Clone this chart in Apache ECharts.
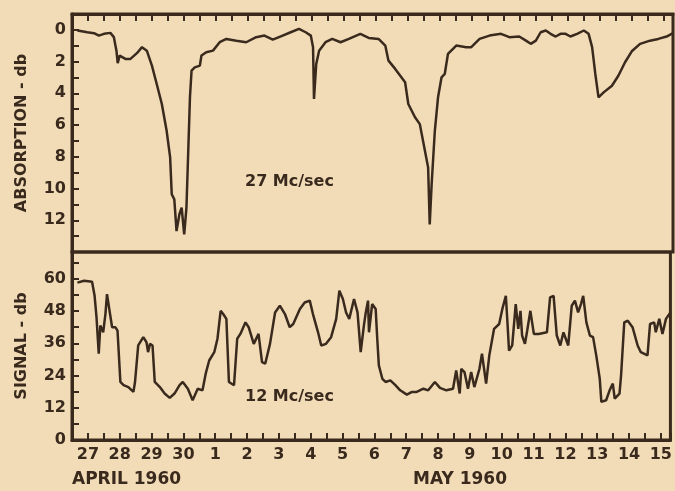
<!DOCTYPE html>
<html>
<head>
<meta charset="utf-8">
<script src="https://cdn.jsdelivr.net/npm/echarts@6/dist/echarts.min.js"></script>
<style>
html,body{margin:0;padding:0;background:#f2dcb8;}
#chart{width:675px;height:491px;}
</style>
</head>
<body>
<div id="chart"></div>
<script>
// x positions are in days counted from 27 April (0 = 27, 4 = 1 May, 18 = 15 May)
var dayLabels = ['27','28','29','30','1','2','3','4','5','6','7','8','9','10','11','12','13','14','15'];
var absorptionTicks = [0, 2, 4, 6, 8, 10, 12];
var signalTicks = [0, 12, 24, 36, 48, 60];

// 27 Mc/sec absorption (db)
var absDay = [-0.33,-0.02,0.19,0.34,0.50,0.70,0.81,0.89,0.93,0.99,
  1.17,1.33,1.53,1.69,1.84,2.00,2.15,2.31,2.46,2.57,
  2.62,2.70,2.77,2.86,2.93,3.01,3.08,3.14,3.19,3.24,
  3.34,3.50,3.55,3.70,3.91,4.12,4.33,4.64,4.95,5.26,
  5.52,5.78,6.09,6.34,6.60,6.81,6.97,7.04,7.07,7.14,
  7.23,7.43,7.64,7.90,8.16,8.52,8.78,9.09,9.30,9.40,
  9.61,9.92,10.02,10.23,10.38,10.54,10.64,10.69,10.75,10.85,
  10.95,11.06,11.16,11.26,11.52,11.83,11.99,12.25,12.56,12.92,
  13.18,13.49,13.70,13.85,14.01,14.16,14.32,14.47,14.63,14.78,
  14.94,15.09,15.30,15.51,15.66,15.77,15.87,15.97,16.13,16.39,
  16.59,16.80,17.01,17.27,17.58,17.84,18.10,18.30];
var absDb = [0.04,0.15,0.21,0.36,0.25,0.19,0.46,1.31,2.10,1.62,
  1.83,1.83,1.47,1.09,1.31,2.25,3.41,4.67,6.36,8.04,
  10.36,10.68,12.68,11.62,11.20,12.89,11.20,7.41,4.25,2.57,
  2.36,2.25,1.62,1.41,1.31,0.78,0.57,0.68,0.78,0.46,
  0.36,0.62,0.36,0.15,-0.06,0.15,0.36,1.09,4.36,2.15,
  1.31,0.78,0.57,0.78,0.57,0.25,0.51,0.57,0.99,1.94,
  2.46,3.30,4.67,5.51,5.94,7.62,8.67,12.26,9.73,6.36,
  4.25,2.99,2.78,1.52,0.99,1.09,1.09,0.57,0.36,0.25,
  0.46,0.42,0.68,0.88,0.68,0.15,0.04,0.25,0.42,0.25,
  0.25,0.42,0.25,0.04,0.25,1.09,2.78,4.25,3.94,3.52,
  2.89,2.04,1.35,0.88,0.68,0.57,0.42,0.21];

// 12 Mc/sec signal (db)
var sigDay = [-0.33,-0.12,0.13,0.21,0.27,0.34,0.39,0.48,0.55,0.60,
  0.68,0.76,0.86,0.93,1.02,1.12,1.27,1.43,1.48,1.58,
  1.74,1.84,1.89,1.95,2.03,2.10,2.26,2.41,2.57,2.72,
  2.88,2.98,3.14,3.29,3.45,3.60,3.70,3.81,3.97,4.07,
  4.17,4.25,4.35,4.43,4.59,4.69,4.79,4.95,5.05,5.21,
  5.36,5.47,5.57,5.72,5.88,6.03,6.19,6.34,6.45,6.66,
  6.81,6.97,7.07,7.23,7.33,7.48,7.64,7.80,7.90,8.01,
  8.11,8.21,8.36,8.47,8.57,8.67,8.73,8.80,8.83,8.93,
  9.04,9.09,9.14,9.25,9.35,9.50,9.66,9.81,10.02,10.18,
  10.33,10.54,10.69,10.90,11.06,11.26,11.47,11.57,11.68,11.73,
  11.83,11.94,12.04,12.14,12.30,12.38,12.51,12.61,12.76,12.92,
  13.02,13.13,13.18,13.23,13.33,13.44,13.52,13.59,13.64,13.73,
  13.80,13.90,14.01,14.16,14.42,14.52,14.63,14.73,14.84,14.94,
  15.09,15.20,15.30,15.40,15.49,15.56,15.66,15.77,15.87,15.97,
  16.08,16.13,16.28,16.39,16.49,16.55,16.70,16.75,16.85,16.96,
  17.11,17.27,17.37,17.58,17.66,17.79,17.84,17.95,18.05,18.16,
  18.30];
var sigDb = [58.6,59.3,58.9,53.7,45.7,32.1,42.6,40.1,46.9,54.3,
  48.1,42.0,42.0,40.7,21.6,20.4,19.7,17.9,21.6,35.2,
  38.3,36.4,32.7,35.8,35.2,21.6,19.7,17.3,15.7,17.3,
  20.4,21.6,19.1,14.8,19.1,18.5,24.7,29.6,32.7,37.7,
  48.1,46.9,45.1,21.6,20.4,37.7,39.5,43.8,42.0,35.8,
  39.5,29.0,28.4,35.8,47.5,50.0,46.9,42.0,43.2,48.8,
  51.2,51.9,46.9,40.1,35.2,35.8,38.3,45.1,55.6,52.5,
  47.5,45.1,52.5,47.5,32.7,42.6,47.5,51.9,40.1,50.6,
  48.8,37.7,27.8,22.8,21.6,22.2,20.4,18.5,16.9,17.9,
  17.9,19.1,18.5,21.6,19.4,18.5,19.1,25.9,17.3,26.5,
  25.3,19.1,25.3,19.7,26.5,32.1,21.0,31.5,41.4,43.2,
  48.8,53.7,43.8,33.3,35.2,50.6,41.4,48.1,38.9,35.8,
  40.7,48.1,39.5,39.5,40.1,53.1,53.7,38.9,35.2,40.1,
  35.2,50.0,51.9,47.5,50.6,53.7,43.8,38.9,38.3,31.5,
  22.8,14.2,14.8,18.5,21.0,15.4,17.3,24.1,43.8,44.4,
  42.0,35.2,32.7,31.5,43.2,43.8,40.1,45.1,39.5,45.1,
  47.5];

function zip(xs, ys){ var out=[]; for(var i=0;i<xs.length;i++){ out.push([xs[i], ys[i]]); } return out; }
var dayVals = dayLabels.map(function(_, i){ return i; });

var ink = '#3a2a1d';
var font = 'DejaVu Sans';
var xMin = -0.5, xMax = 18.3; // ticks every half day, counted from xMin

var chart = echarts.init(document.getElementById('chart'), null, {renderer:'canvas'});
chart.setOption({
  backgroundColor: '#f2dcb8',
  animation: false,
  grid: [
    {left:72, right:2, top:14, height:238, show:true, borderColor:ink, borderWidth:3, backgroundColor:'transparent'},
    {left:72, right:2, top:252, height:188, show:true, borderColor:ink, borderWidth:3, backgroundColor:'transparent'}
  ],
  xAxis: [
    {gridIndex:0, type:'value', position:'top', min:xMin, max:xMax, interval:0.5,
     axisLine:{show:true, onZero:false, lineStyle:{color:ink, width:3}},
     axisTick:{show:true, inside:true, length:7, lineStyle:{color:ink, width:2}},
     axisLabel:{show:false}, splitLine:{show:false}},
    {gridIndex:1, type:'value', position:'bottom', min:xMin, max:xMax, interval:0.5,
     axisLine:{show:true, onZero:false, lineStyle:{color:ink, width:3}},
     axisTick:{show:true, inside:true, length:7, lineStyle:{color:ink, width:2}},
     axisLabel:{show:true, customValues: dayVals, margin:7, color:ink, fontFamily:font, fontWeight:'bold', fontSize:16,
       formatter:function(v){ return dayLabels[Math.round(v)]; }},
     splitLine:{show:false}}
  ],
  yAxis: [
    {gridIndex:0, type:'value', inverse:true, min:-1, max:14, interval:1, position:'left',
     name:'ABSORPTION - db', nameLocation:'middle', nameRotate:90, nameGap:42,
     nameTextStyle:{color:ink, fontFamily:font, fontWeight:'bold', fontSize:16},
     axisLine:{show:true, onZero:false, lineStyle:{color:ink, width:3}},
     axisTick:{show:true, inside:true, length:7, lineStyle:{color:ink, width:2}},
     axisLabel:{show:true, customValues: absorptionTicks, margin:6, color:ink, fontFamily:font, fontWeight:'bold', fontSize:16},
     splitLine:{show:false}},
    {gridIndex:1, type:'value', min:0, max:70, interval:6, position:'left',
     name:'SIGNAL - db', nameLocation:'middle', nameRotate:90, nameGap:42,
     nameTextStyle:{color:ink, fontFamily:font, fontWeight:'bold', fontSize:16},
     axisLine:{show:true, onZero:false, lineStyle:{color:ink, width:3}},
     axisTick:{show:true, inside:true, length:7, lineStyle:{color:ink, width:2}},
     axisLabel:{show:true, customValues: signalTicks, margin:6, color:ink, fontFamily:font, fontWeight:'bold', fontSize:16},
     splitLine:{show:false}}
  ],
  series: [
    {type:'line', xAxisIndex:0, yAxisIndex:0, data: zip(absDay, absDb), showSymbol:false, symbol:'none',
     lineStyle:{color:ink, width:2.5}, clip:true, silent:true},
    {type:'line', xAxisIndex:1, yAxisIndex:1, data: zip(sigDay, sigDb), showSymbol:false, symbol:'none',
     lineStyle:{color:ink, width:2.5}, clip:true, silent:true}
  ],
  graphic: [
    {type:'text', left:245, top:174, style:{text:'27 Mc/sec', fill:ink, font:'bold 16px "DejaVu Sans"'}},
    {type:'text', left:245, top:389, style:{text:'12 Mc/sec', fill:ink, font:'bold 16px "DejaVu Sans"'}},
    {type:'text', left:72, top:471, style:{text:'APRIL 1960', fill:ink, font:'bold 17px "DejaVu Sans"'}},
    {type:'text', left:413, top:471, style:{text:'MAY 1960', fill:ink, font:'bold 17px "DejaVu Sans"'}}
  ]
});
</script>
</body>
</html>
